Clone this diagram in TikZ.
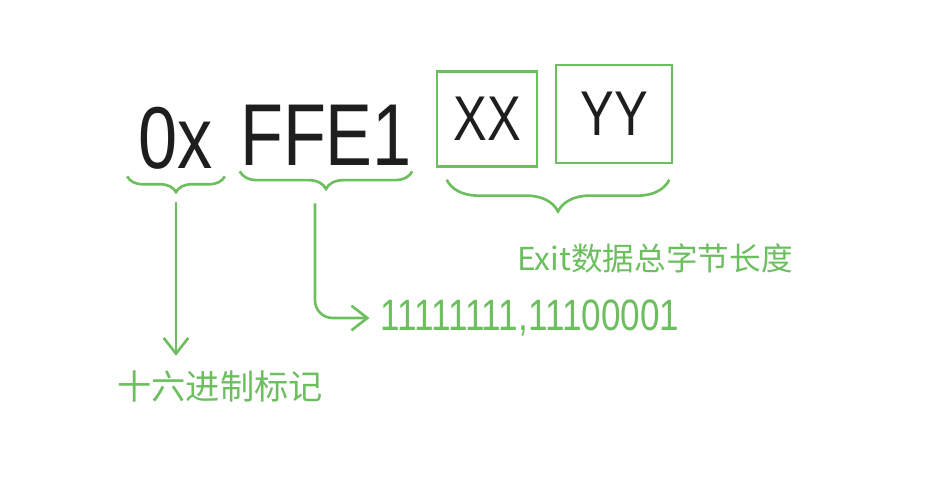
\documentclass[tikz,border=0pt]{standalone}
\usepackage{fontspec}
\usepackage{tikz}
\usetikzlibrary{arrows.meta, positioning, calc, decorations.pathreplacing}
\newfontfamily\handfont[FakeStretch=0.8]{Liberation Sans}
\newfontfamily\cjkfont{Noto Sans CJK SC}
\definecolor{penblack}{RGB}{30,30,30}
\definecolor{pengreen}{RGB}{108,190,95}
\tikzset{
  hexchars/.style={inner sep=0pt, text depth=0pt, anchor=base, text=penblack,
    font=\handfont\fontsize{50}{50}\selectfont},
  bytebox/.style={draw=pengreen, line width=1.5pt, inner sep=0pt, text=penblack,
    font=\handfont\fontsize{36}{36}\selectfont},
  note/.style={text=pengreen, inner sep=0pt, font=\cjkfont\fontsize{19.5}{19.5}\selectfont},
  bits/.style={text=pengreen, inner sep=0pt, font=\handfont\fontsize{25}{25}\selectfont},
  greenbrace/.style={decorate, decoration={brace, amplitude=#1}, draw=pengreen,
    line width=1.5pt},
  arrow/.style={-{Straight Barb[length=9pt, width=14pt]}, line width=1.5pt, draw=pengreen},
}

\begin{document}
\begin{tikzpicture}[x=0.02cm, y=-0.02cm]
  \useasboundingbox (0,0) rectangle (932,480);
  % marker and the two length bytes
  \node[hexchars, minimum width=1.94cm] (ox) at (176,168) {0x};
  \node[hexchars, minimum width=3.14cm] (ffe1) at (326,165) {FFE1};
  \node[bytebox, minimum width=2cm, minimum height=1.9cm] (xx) at (487,119) {XX};
  \node[bytebox, minimum width=2.32cm, minimum height=1.96cm] (yy) at (614,114) {YY};
  % braces underneath
  \draw[greenbrace=9pt] ($(ox.south east)+(0,8)$) -- ($(ox.south west)+(0,8)$);
  \draw[greenbrace=10pt] ($(ffe1.south east)+(0,6)$) -- ($(ffe1.south west)+(0,6)$);
  \draw[greenbrace=18pt] ($(yy.south east |- xx.south)+(-4,12)$) -- ($(xx.south west)+(11,12)$);
  \coordinate (oxtip) at ($(ox.south)+(0,34)$);
  \coordinate (fftip) at ($(ffe1.south)+(-11,38)$);
  % labels
  \node[note] (hexnote) at (220,386) {十六进制标记};
  \node[note, font=\cjkfont\fontsize{18}{18}\selectfont] (lennote) at (655,258) {Exit数据总字节长度};
  \node[bits, anchor=west] (bits) at (380,318) {11111111,11100001};
  % arrows
  \draw[arrow, shorten >=8pt] (oxtip) -- (oxtip |- hexnote.north);
  \draw[arrow, rounded corners=10pt, shorten >=6pt] (fftip) |- (bits.west);
\end{tikzpicture}
\end{document}
